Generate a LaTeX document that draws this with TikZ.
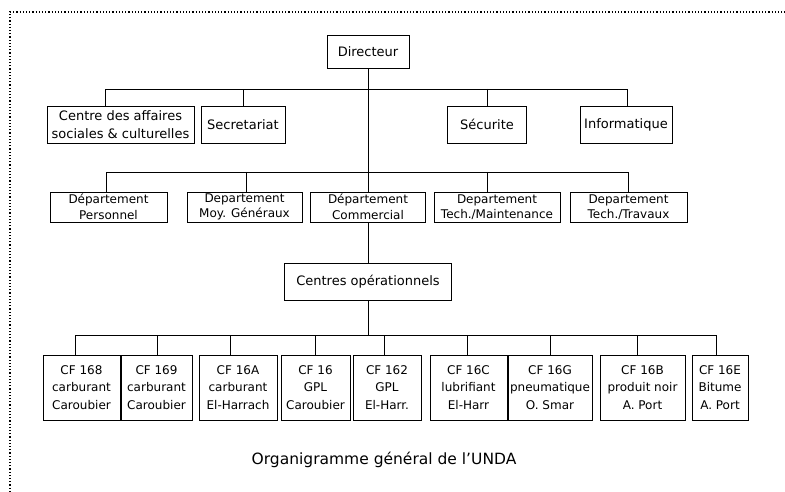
\documentclass[tikz,border=0pt]{standalone}
\usepackage{fontspec}
\setmainfont{DejaVu Sans}
\usetikzlibrary{positioning}

\begin{document}
\begin{tikzpicture}[x=1pt,y=-1pt,
  box/.style={draw, line width=0.9pt, align=center, inner sep=1pt,
    font=\fontsize{12}{15.5}\selectfont},
  topbox/.style={box, minimum height=37pt, font=\fontsize{13}{18}\selectfont},
  cfbox/.style={box, minimum height=65pt, font=\fontsize{12}{17.5}\selectfont},
  link/.style={line width=0.7pt}]
\useasboundingbox (0,0) rectangle (785,492);
\draw[dotted, line width=1.2pt] (10,492) -- (10,12) -- (785,12); % frame
%
\node[topbox, minimum width=82pt, minimum height=33pt] (dir) at (368,51.5) {Directeur};
%
\node[topbox, minimum width=147pt] (cas) at (120.5,124.5) {Centre des affaires\\sociales \& culturelles};
\node[topbox, minimum width=84pt] (sec) at (243,124.5) {Secretariat};
\node[topbox, minimum width=79pt] (secu) at (487,124.5) {Sécurite};
\node[topbox, minimum width=92pt] (info) at (626,124.5) {Informatique};
%
\node[box, minimum width=117pt, minimum height=30pt] (pers) at (108.5,207) {Département\\Personnel};
\node[box, minimum width=115pt, minimum height=30pt] (moy) at (244.5,207) {Departement\\Moy. Généraux};
\node[box, minimum width=115pt, minimum height=30pt] (com) at (368,207) {Département\\Commercial};
\node[box, minimum width=126pt, minimum height=30pt] (maint) at (497,207) {Departement\\Tech./Maintenance};
\node[box, minimum width=117pt, minimum height=30pt] (trav) at (628.5,207) {Departement\\Tech./Travaux};
%
\node[topbox, minimum width=167pt] (cop) at (368,281.5) {Centres opérationnels};
%
\node[cfbox, minimum width=77pt] (c168) at (81.5,387.5) {CF 168\\carburant\\Caroubier};
\node[cfbox, minimum width=71pt] (c169) at (156.5,387.5) {CF 169\\carburant\\Caroubier};
\node[cfbox, minimum width=78pt] (c16a) at (238,387.5) {CF 16A\\carburant\\El-Harrach};
\node[cfbox, minimum width=69pt] (c16) at (315.5,387.5) {CF 16\\GPL\\Caroubier};
\node[cfbox, minimum width=68pt] (c162) at (387,387.5) {CF 162\\GPL\\El-Harr.};
\node[cfbox, minimum width=77pt] (c16c) at (468.5,387.5) {CF 16C\\lubrifiant\\El-Harr};
\node[cfbox, minimum width=84pt] (c16g) at (550,387.5) {CF 16G\\pneumatique\\O. Smar};
\node[cfbox, minimum width=85pt] (c16b) at (642.5,387.5) {CF 16B\\produit noir\\A. Port};
\node[cfbox, minimum width=56pt] (c16e) at (720,387.5) {CF 16E\\Bitume\\A. Port};
%
\node[font=\fontsize{15.5}{18}\selectfont] (titre) at (384,460) {Organigramme général de l'UNDA};
%
% first level
\coordinate (b1l) at (105,89);
\coordinate (b1r) at (627,89);
\draw[link] (b1l |- cas.north) -- (b1l) -- (b1r) -- (b1r |- info.north);
\draw[link] (sec.north) -- (sec.north |- b1l);
\draw[link] (487,89) -- (487,0 |- secu.north);
\draw[link] (dir.south) -- (com.north);
%
% departements
\coordinate (b2l) at (106,172);
\coordinate (b2r) at (628,172);
\draw[link] (b2l |- pers.north) -- (b2l) -- (b2r) -- (b2r |- trav.north);
\draw[link] (246,172) -- (246,0 |- moy.north);
\draw[link] (487,172) -- (487,0 |- maint.north);
%
% centres
\draw[link] (com.south) -- (cop.north);
\coordinate (b3l) at (75,335);
\coordinate (b3r) at (716,335);
\draw[link] (cop.south) -- (cop.south |- b3l);
\draw[link] (b3l |- c168.north) -- (b3l) -- (b3r) -- (b3r |- c16e.north);
\draw[link] (157,335) -- (157,0 |- c169.north);
\draw[link] (230,335) -- (230,0 |- c16a.north);
\draw[link] (315,335) -- (315,0 |- c16.north);
\draw[link] (384,335) -- (384,0 |- c162.north);
\draw[link] (467,335) -- (467,0 |- c16c.north);
\draw[link] (550,335) -- (550,0 |- c16g.north);
\draw[link] (637,335) -- (637,0 |- c16b.north);
\end{tikzpicture}
\end{document}
